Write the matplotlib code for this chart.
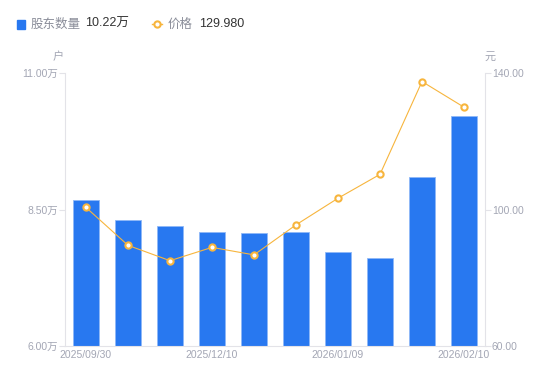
import matplotlib
matplotlib.use('Agg')
import matplotlib.pyplot as plt
import numpy as np

plt.rcParams['font.family'] = ['Liberation Sans', 'Noto Sans CJK SC', 'DejaVu Sans']

dates = ['2025/09/30', '2025/10/31', '2025/11/20', '2025/12/10', '2025/12/20',
         '2025/12/31', '2026/01/09', '2026/01/20', '2026/01/30', '2026/02/10']
holders = [8.67, 8.31, 8.19, 8.08, 8.07, 8.09, 7.72, 7.62, 9.09, 10.22]  # 万户
price = [100.6, 89.5, 85.0, 88.9, 86.7, 95.5, 103.3, 110.3, 137.5, 129.98]  # 元
shown_ticks = [0, 3, 6, 9]

blue = '#2878f0'
orange = '#f7b53d'
grey_txt = '#a3a6b4'
axis_col = '#e3e3e8'
cjk = ['Noto Sans CJK SC', 'DejaVu Sans']

fig = plt.figure(figsize=(5.5, 3.81), dpi=100)
ax = fig.add_axes([65/550, 1-346/381, 420/550, 273/381])
x = np.arange(len(dates))
ax.bar(x, holders, width=0.6, color=blue, edgecolor='#8fb8f7', linewidth=0.6, zorder=2)
ax.set_xlim(-0.5, len(dates)-0.5)
ax.set_ylim(6, 11)
ax.set_yticks([6, 8.5, 11])
ax.set_yticklabels([f'{v:.2f}万' for v in [6, 8.5, 11]])
ax.set_xticks([x[i] for i in shown_ticks])
ax.set_xticklabels([dates[i] for i in shown_ticks])

ax2 = ax.twinx()
ax2.plot(x, price, color=orange, linewidth=0.8, marker='o', markersize=4.5,
         markerfacecolor='white', markeredgecolor=orange, markeredgewidth=1.5, zorder=3)
ax2.set_ylim(60, 140)
ax2.set_yticks([60, 100, 140])
ax2.set_yticklabels([f'{v:.2f}' for v in [60, 100, 140]])

for a in (ax, ax2):
    for s in a.spines.values():
        s.set_visible(False)
    a.tick_params(colors=axis_col, labelcolor=grey_txt, labelsize=7.5, length=4, width=0.8, pad=1)
ax.spines['left'].set_visible(True)
ax.spines['left'].set_color(axis_col)
ax.spines['bottom'].set_visible(True)
ax.spines['bottom'].set_color(axis_col)
ax2.spines['right'].set_visible(True)
ax2.spines['right'].set_color(axis_col)
ax.tick_params(axis='x', length=0, pad=3)

fig.text(58/550, 1-57/381, '户', color=grey_txt, fontsize=8, ha='center', va='center', family=cjk)
fig.text(490/550, 1-57/381, '元', color=grey_txt, fontsize=8, ha='center', va='center', family=cjk)

# legend
ly = 1-24/381
fig.patches.append(plt.Rectangle((17/550, 1-28.5/381), 8/550, 9/381, transform=fig.transFigure,
                                 color=blue, figure=fig))
fig.text(31/550, ly, '股东数量', color='#8a8d99', fontsize=9, va='center', family=cjk)
fig.text(85/550, ly, f'{holders[-1]:.2f}万', color='#333333', fontsize=9, va='center')
fig.lines.append(plt.Line2D([152/550, 162/550], [ly, ly], transform=fig.transFigure, color=orange,
                            linewidth=1, figure=fig))
fig.lines.append(plt.Line2D([157/550], [ly], transform=fig.transFigure, color=orange, marker='o',
                            markersize=4.5, markerfacecolor='white', markeredgewidth=1.5, figure=fig))
fig.text(168/550, ly, '价格', color='#8a8d99', fontsize=9, va='center', family=cjk)
fig.text(199/550, ly, f'{price[-1]:.3f}', color='#333333', fontsize=9, va='center')

fig.savefig('out.png', dpi=100)
